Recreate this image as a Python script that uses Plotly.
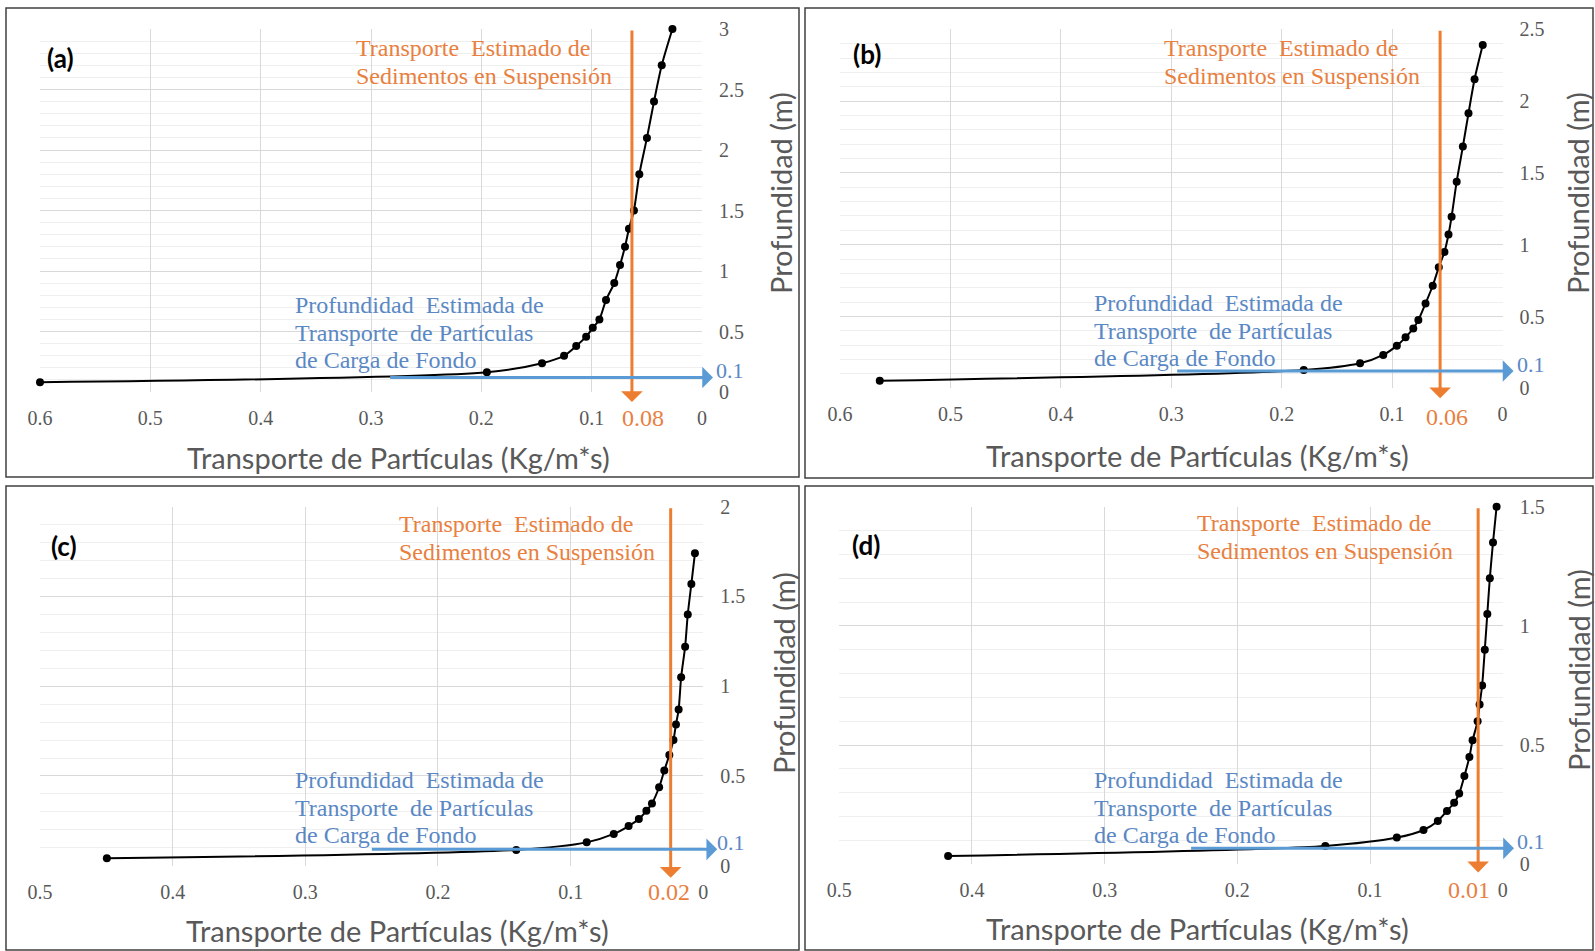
import plotly.graph_objects as go

W, H = 1595, 951

# ---------------- data ----------------
panel_labels = ["(a)", "(b)", "(c)", "(d)"]

transport_a = [0.600, 0.195, 0.145, 0.125, 0.114, 0.105, 0.099, 0.093, 0.087, 0.0795,
               0.0743, 0.0698, 0.0662, 0.0617, 0.0568, 0.0499, 0.0435, 0.0365, 0.0268]
depth_a = [0.08, 0.163, 0.237, 0.30, 0.38, 0.457, 0.53, 0.60, 0.76, 0.90,
           1.05, 1.20, 1.35, 1.50, 1.80, 2.10, 2.40, 2.70, 3.00]

transport_b = [0.564, 0.180, 0.129, 0.108, 0.0957, 0.0878, 0.0808, 0.0762, 0.0697, 0.0632,
               0.0577, 0.0526, 0.0489, 0.0461, 0.0415, 0.0359, 0.0308, 0.0253, 0.0179]
depth_b = [0.053, 0.127, 0.174, 0.232, 0.297, 0.355, 0.417, 0.475, 0.591, 0.714,
           0.843, 0.949, 1.071, 1.195, 1.439, 1.683, 1.915, 2.152, 2.39]

transport_c = [0.4496, 0.141, 0.0879, 0.0675, 0.0563, 0.0486, 0.0429, 0.0387, 0.0333, 0.0294,
               0.0256, 0.0225, 0.0206, 0.0186, 0.0167, 0.0137, 0.0117, 0.0090, 0.0063]
depth_c = [0.041, 0.088, 0.130, 0.177, 0.221, 0.26, 0.306, 0.347, 0.437, 0.53,
           0.617, 0.70, 0.787, 0.87, 1.05, 1.22, 1.40, 1.57, 1.74]

transport_d = [0.418, 0.1337, 0.0798, 0.0597, 0.0489, 0.0420, 0.0366, 0.0328, 0.0289, 0.0251,
               0.0227, 0.0189, 0.0174, 0.0155, 0.0135, 0.0116, 0.0097, 0.0073, 0.0046]
depth_d = [0.035, 0.077, 0.112, 0.144, 0.182, 0.224, 0.258, 0.297, 0.37, 0.45,
           0.52, 0.60, 0.67, 0.75, 0.90, 1.05, 1.20, 1.35, 1.50]

transports = [transport_a, transport_b, transport_c, transport_d]
depths = [depth_a, depth_b, depth_c, depth_d]

x_max = [0.6, 0.6, 0.5, 0.5]
y_max = [3.0, 2.5, 2.0, 1.5]
x_ticks = [[0, 0.1, 0.2, 0.3, 0.4, 0.5, 0.6], [0, 0.1, 0.2, 0.3, 0.4, 0.5, 0.6],
           [0, 0.1, 0.2, 0.3, 0.4, 0.5], [0, 0.1, 0.2, 0.3, 0.4, 0.5]]
x_ticktext = [["0", "0.1", "0.2", "0.3", "0.4", "0.5", "0.6"], ["0", "0.1", "0.2", "0.3", "0.4", "0.5", "0.6"],
              ["0", "0.1", "0.2", "0.3", "0.4", "0.5"], ["0", "0.1", "0.2", "0.3", "0.4", "0.5"]]
y_ticks = [[0, 0.5, 1, 1.5, 2, 2.5, 3], [0, 0.5, 1, 1.5, 2, 2.5], [0, 0.5, 1, 1.5, 2], [0, 0.5, 1, 1.5]]
y_ticktext = [["0", "0.5", "1", "1.5", "2", "2.5", "3"], ["0", "0.5", "1", "1.5", "2", "2.5"],
              ["0", "0.5", "1", "1.5", "2"], ["0", "0.5", "1", "1.5"]]

# suspended-load estimate (orange vertical arrow) and its label
susp_x = [0.0635, 0.0565, 0.0246, 0.0185]
susp_tip_y = [-0.083, -0.07, -0.067, -0.034]
susp_label = ["0.08", "0.06", "0.02", "0.01"]

# bed-load depth (blue horizontal arrow) and its label
bed_y = [0.12, 0.12, 0.091, 0.067]
bed_tail_x = [0.284, 0.296, 0.251, 0.236]
bed_tip_x = [-0.010, -0.010, -0.0105, -0.0085]
bed_label = ["0.1", "0.1", "0.1", "0.1"]

orange_lines = ["Transporte  Estimado de", "Sedimentos en Suspensión"]
blue_lines = ["Profundidad  Estimada de", "Transporte  de Partículas", "de Carga de Fondo"]
x_title = "Transporte de Partículas (Kg/m*s)"
y_title = "Profundidad (m)"

# ---------------- layout helpers (pixel -> paper) ----------------
def PX(p):
    return p / W

def PY(p):
    return 1 - p / H

# plot-area boxes in pixels: (left, right, top, bottom)
areas = [(40, 702, 29, 392), (840, 1502.5, 29.3, 388.3),
         (40, 703.3, 506.7, 865.7), (839.3, 1502.7, 506.7, 864.3)]
frames = [(6, 799, 8, 477), (805, 1593, 8, 478), (6, 799, 486, 950), (805, 1593, 486, 950)]
label_pos = [(61, 58), (867, 54), (64, 546), (866, 545)]
orange_pos = [(354, 48), (1162, 48), (397, 524), (1195, 523)]
blue_pos = [(293, 305), (1092, 303), (293, 780), (1092, 780)]
xtitle_pos = [(398, 457), (1197, 455), (397, 930), (1197, 928)]
ytitle_pos = [(781, 193), (1578, 193), (783, 673), (1578, 670)]
susp_lab_y = [418, 417, 892, 890]
susp_lab_shift = [11, 7, -2, -9]

ORANGE = "#ED7D31"
ORANGE_T = "#E8803F"
BLUE = "#5B9BD5"
BLUE_T = "#5A88C4"
GRAY = "#595959"
SERIF = "Liberation Serif"
SANS = "Lato"

fig = go.Figure()
annotations = []
shapes = []

for i in range(4):
    n = "" if i == 0 else str(i + 1)
    xa, ya = "x" + n, "y" + n
    l, r, t, b = areas[i]

    fig.add_trace(go.Scatter(
        x=transports[i], y=depths[i], mode="lines+markers",
        line=dict(color="black", width=2, shape="spline", smoothing=0.8),
        marker=dict(color="black", size=8),
        xaxis=xa, yaxis=ya, showlegend=False, cliponaxis=False))

    fig.layout["xaxis" + n] = dict(
        domain=[PX(l), PX(r)], anchor=ya, range=[x_max[i], 0], autorange=False,
        tickvals=x_ticks[i], ticktext=x_ticktext[i], automargin=False,
        showgrid=True, gridcolor="#D9D9D9", gridwidth=1, zeroline=False, showline=False,
        ticks="", ticklabelstandoff=12,
        tickfont=dict(family=SERIF, size=20, color=GRAY))
    fig.layout["yaxis" + n] = dict(
        domain=[PY(b), PY(t)], anchor=xa, side="right", range=[0, y_max[i]], autorange=False,
        tickvals=y_ticks[i], ticktext=y_ticktext[i], automargin=False,
        showgrid=True, gridcolor="#D9D9D9", gridwidth=1, zeroline=False, showline=False,
        ticks="", ticklabelstandoff=16,
        minor=dict(dtick=0.1, tick0=0, showgrid=True, gridcolor="#EFEFEF", gridwidth=1),
        tickfont=dict(family=SERIF, size=20, color=GRAY))

    # frame
    fl, fr, ft, fb = frames[i]
    shapes.append(dict(type="rect", xref="paper", yref="paper",
                       x0=PX(fl), x1=PX(fr), y0=PY(fb), y1=PY(ft),
                       line=dict(color="#404040", width=1.5)))

    # orange vertical arrow (tail at top of axis, head below x axis)
    annotations.append(dict(
        xref=xa, yref=ya, axref=xa, ayref=ya,
        x=susp_x[i], y=susp_tip_y[i], ax=susp_x[i], ay=y_max[i],
        showarrow=True, arrowhead=1, arrowsize=1.2, arrowwidth=3, arrowcolor=ORANGE, text=""))
    annotations.append(dict(
        xref=xa, yref="paper", x=susp_x[i], y=PY(susp_lab_y[i]), xshift=susp_lab_shift[i],
        text=susp_label[i], showarrow=False, xanchor="center", yanchor="middle",
        font=dict(family=SERIF, size=24, color=ORANGE_T)))

    # blue horizontal arrow
    annotations.append(dict(
        xref=xa, yref=ya, axref=xa, ayref=ya,
        x=bed_tip_x[i], y=bed_y[i], ax=bed_tail_x[i], ay=bed_y[i],
        showarrow=True, arrowhead=1, arrowsize=1.2, arrowwidth=3, arrowcolor=BLUE, text=""))
    annotations.append(dict(
        xref=xa + " domain", yref=ya, x=1, y=bed_y[i], xshift=12, yshift=7,
        text=bed_label[i], showarrow=False, xanchor="left", yanchor="middle",
        font=dict(family=SERIF, size=22, color=BLUE_T)))

    # panel label
    lx, ly = label_pos[i]
    annotations.append(dict(xref="paper", yref="paper", x=PX(lx), y=PY(ly),
                            text="<b>" + panel_labels[i] + "</b>", showarrow=False,
                            xanchor="center", yanchor="middle",
                            font=dict(family=SANS, size=26, color="black")))

    # orange text
    ox, oy = orange_pos[i]
    for k, line in enumerate(orange_lines):
        annotations.append(dict(xref="paper", yref="paper", x=PX(ox), y=PY(oy + 28 * k),
                                text=line, showarrow=False, xanchor="left", yanchor="middle",
                                font=dict(family=SERIF, size=24, color=ORANGE_T)))
    # blue text
    bx, by = blue_pos[i]
    for k, line in enumerate(blue_lines):
        annotations.append(dict(xref="paper", yref="paper", x=PX(bx), y=PY(by + 27.5 * k),
                                text=line, showarrow=False, xanchor="left", yanchor="middle",
                                font=dict(family=SERIF, size=24, color=BLUE_T)))

    # axis titles
    tx, ty = xtitle_pos[i]
    annotations.append(dict(xref="paper", yref="paper", x=PX(tx), y=PY(ty), text=x_title,
                            showarrow=False, xanchor="center", yanchor="middle",
                            font=dict(family=SANS, size=29, color=GRAY)))
    vx, vy = ytitle_pos[i]
    annotations.append(dict(xref="paper", yref="paper", x=PX(vx), y=PY(vy), text=y_title,
                            showarrow=False, xanchor="center", yanchor="middle", textangle=-90,
                            font=dict(family=SANS, size=29, color=GRAY)))

fig.update_layout(
    width=W, height=H, margin=dict(l=0, r=0, t=0, b=0, pad=0, autoexpand=False),
    paper_bgcolor="white", plot_bgcolor="white",
    annotations=annotations, shapes=shapes, showlegend=False)

fig.write_html(
    "out.html",
    post_script="document.body.style.margin='0';document.body.style.overflow='hidden';")
